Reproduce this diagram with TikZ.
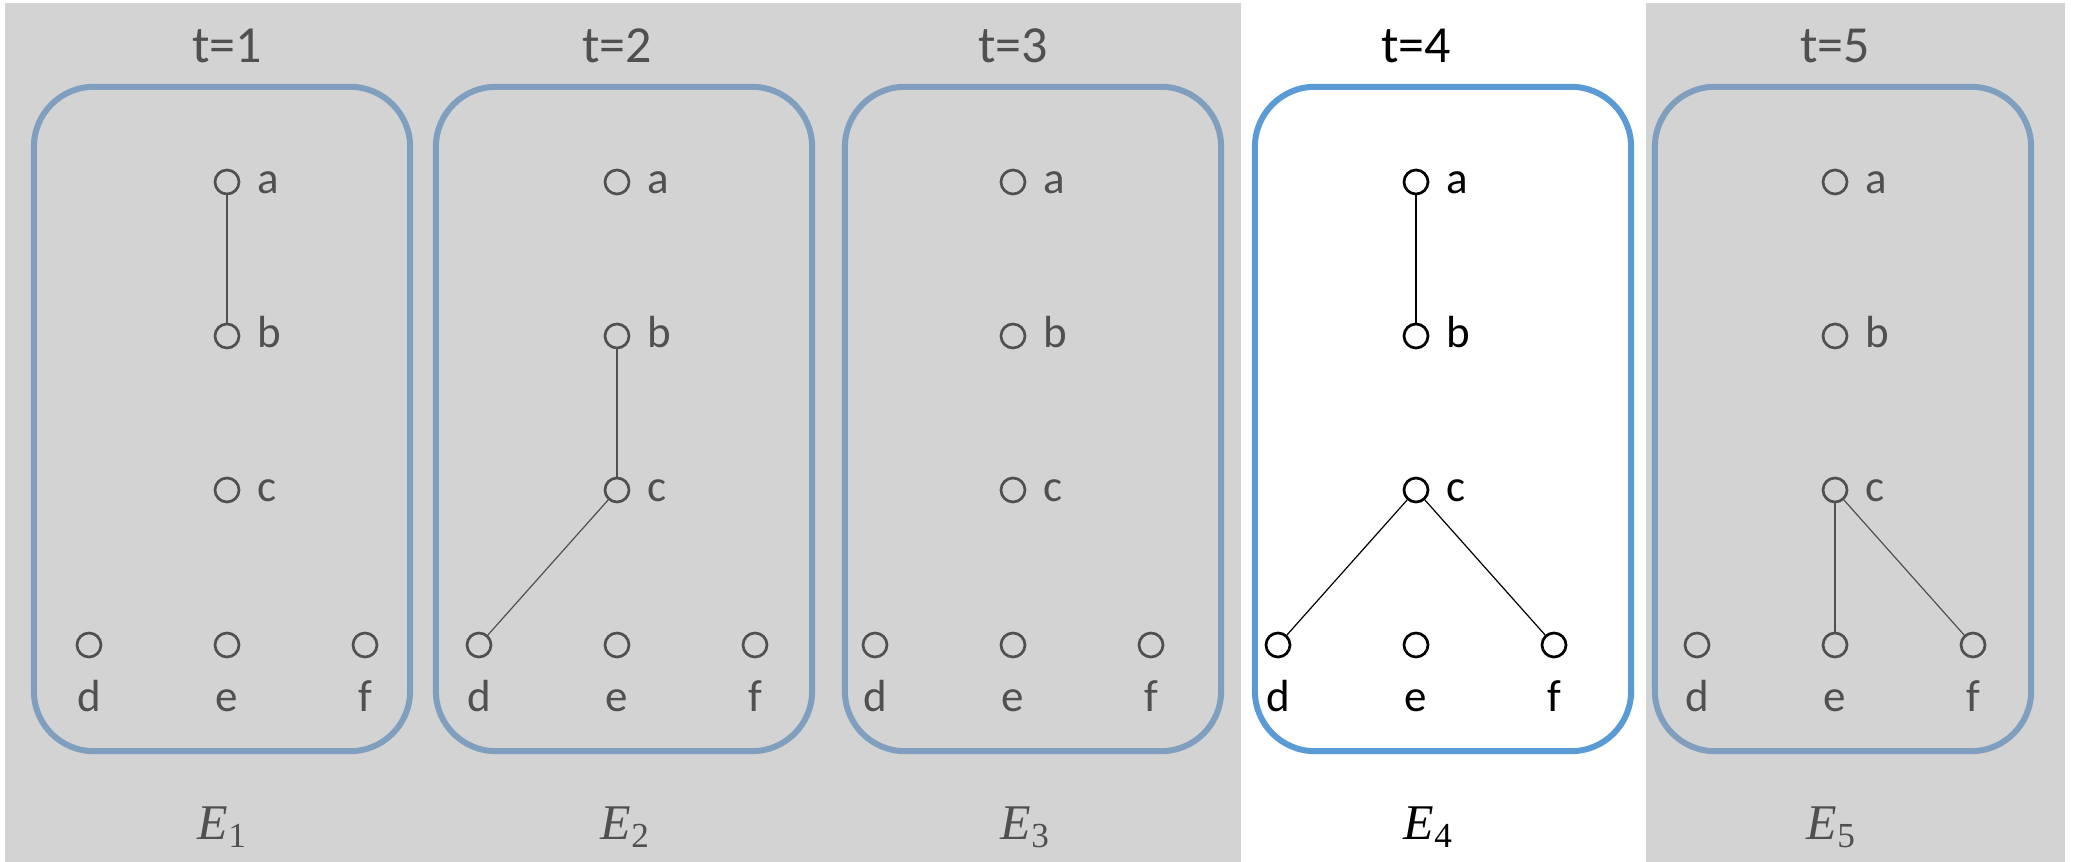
\documentclass[tikz,border=0pt]{standalone}
\usepackage{fontspec}
\setmainfont{Carlito}
\newfontfamily\efont{Liberation Serif}
\definecolor{panelgray}{HTML}{D3D3D3}
\definecolor{boxblue}{HTML}{5B9BD5}
\definecolor{boxfade}{HTML}{809FBF}
\definecolor{fadetext}{HTML}{505050}
\tikzset{
  fade/.style={/utils/exec={\colorlet{boxc}{boxfade}\colorlet{inkc}{fadetext}}},
  live/.style={/utils/exec={\colorlet{boxc}{boxblue}\colorlet{inkc}{black}}},
  framebox/.style={rectangle, draw=boxc, rounded corners=0.6cm, line width=0.06cm,
    minimum width=3.76cm, minimum height=6.64cm, inner sep=0},
  vtx/.style={circle, draw=inkc, line width=0.027cm, minimum size=0.24cm, inner sep=0},
  sidelbl/.style={inner sep=0, anchor=base west, text=inkc, font=\fontsize{12.8}{14}\selectfont},
  lowlbl/.style={inner sep=0, anchor=base, text=inkc, font=\fontsize{12.8}{14}\selectfont},
  ttl/.style={inner sep=0, anchor=base, text=inkc, font=\fontsize{14.8}{16}\selectfont},
  elbl/.style={inner sep=0, anchor=base, text=inkc},
  edge/.style={line width=0.012cm}
}
\newcommand\Elabel[1]{{\efont\fontsize{14.2}{16}\selectfont\itshape E}{\efont\fontsize{10}{11}\selectfont\raisebox{-0.08cm}{#1}}}
\begin{document}
\begin{tikzpicture}[x=0.01cm, y=-0.01cm]
\useasboundingbox (0,0) rectangle (2073,862);
\fill[white] (0,0) rectangle (2073,862);
\fill[panelgray] (5,3) rectangle (1241,862);
\fill[panelgray] (1646,3) rectangle (2065,862);
\foreach \i/\bx/\cx/\ex/\st in {1/222/227/222/fade, 2/624/617/625/fade, 3/1033/1013/1025/fade, 4/1443/1416/1428/live, 5/1843/1835/1831/fade}{
  \begin{scope}[\st]
    \node[framebox] (box\i) at (\bx,419) {};
    \node[ttl] (t\i) at (\cx,63) {t=\i};
    \node[vtx] (a\i) at (\cx,182) {};
    \node[vtx] (b\i) at (\cx,336) {};
    \node[vtx] (c\i) at (\cx,490) {};
    \node[vtx] (d\i) at ({\cx-138},645) {};
    \node[vtx] (e\i) at (\cx,645) {};
    \node[vtx] (f\i) at ({\cx+138},645) {};
    \node[sidelbl] (la\i) at ({\cx+30},194) {a};
    \node[sidelbl] (lb\i) at ({\cx+30},348) {b};
    \node[sidelbl] (lc\i) at ({\cx+30},502) {c};
    \node[lowlbl] (ld\i) at ({\cx-138},712) {d};
    \node[lowlbl] (le\i) at (\cx,712) {e};
    \node[lowlbl] (lf\i) at ({\cx+138},712) {f};
    \node[elbl] (E\i) at (\ex,840) {\Elabel{\i}};
  \end{scope}
}
\draw[edge, fadetext] (a1) -- (b1);
\draw[edge, fadetext] (b2) -- (c2);
\draw[edge, fadetext] (c2) -- (d2);
\draw[edge, black] (a4) -- (b4);
\draw[edge, black] (c4) -- (d4);
\draw[edge, black] (c4) -- (f4);
\draw[edge, fadetext] (c5) -- (e5);
\draw[edge, fadetext] (c5) -- (f5);
\end{tikzpicture}
\end{document}
